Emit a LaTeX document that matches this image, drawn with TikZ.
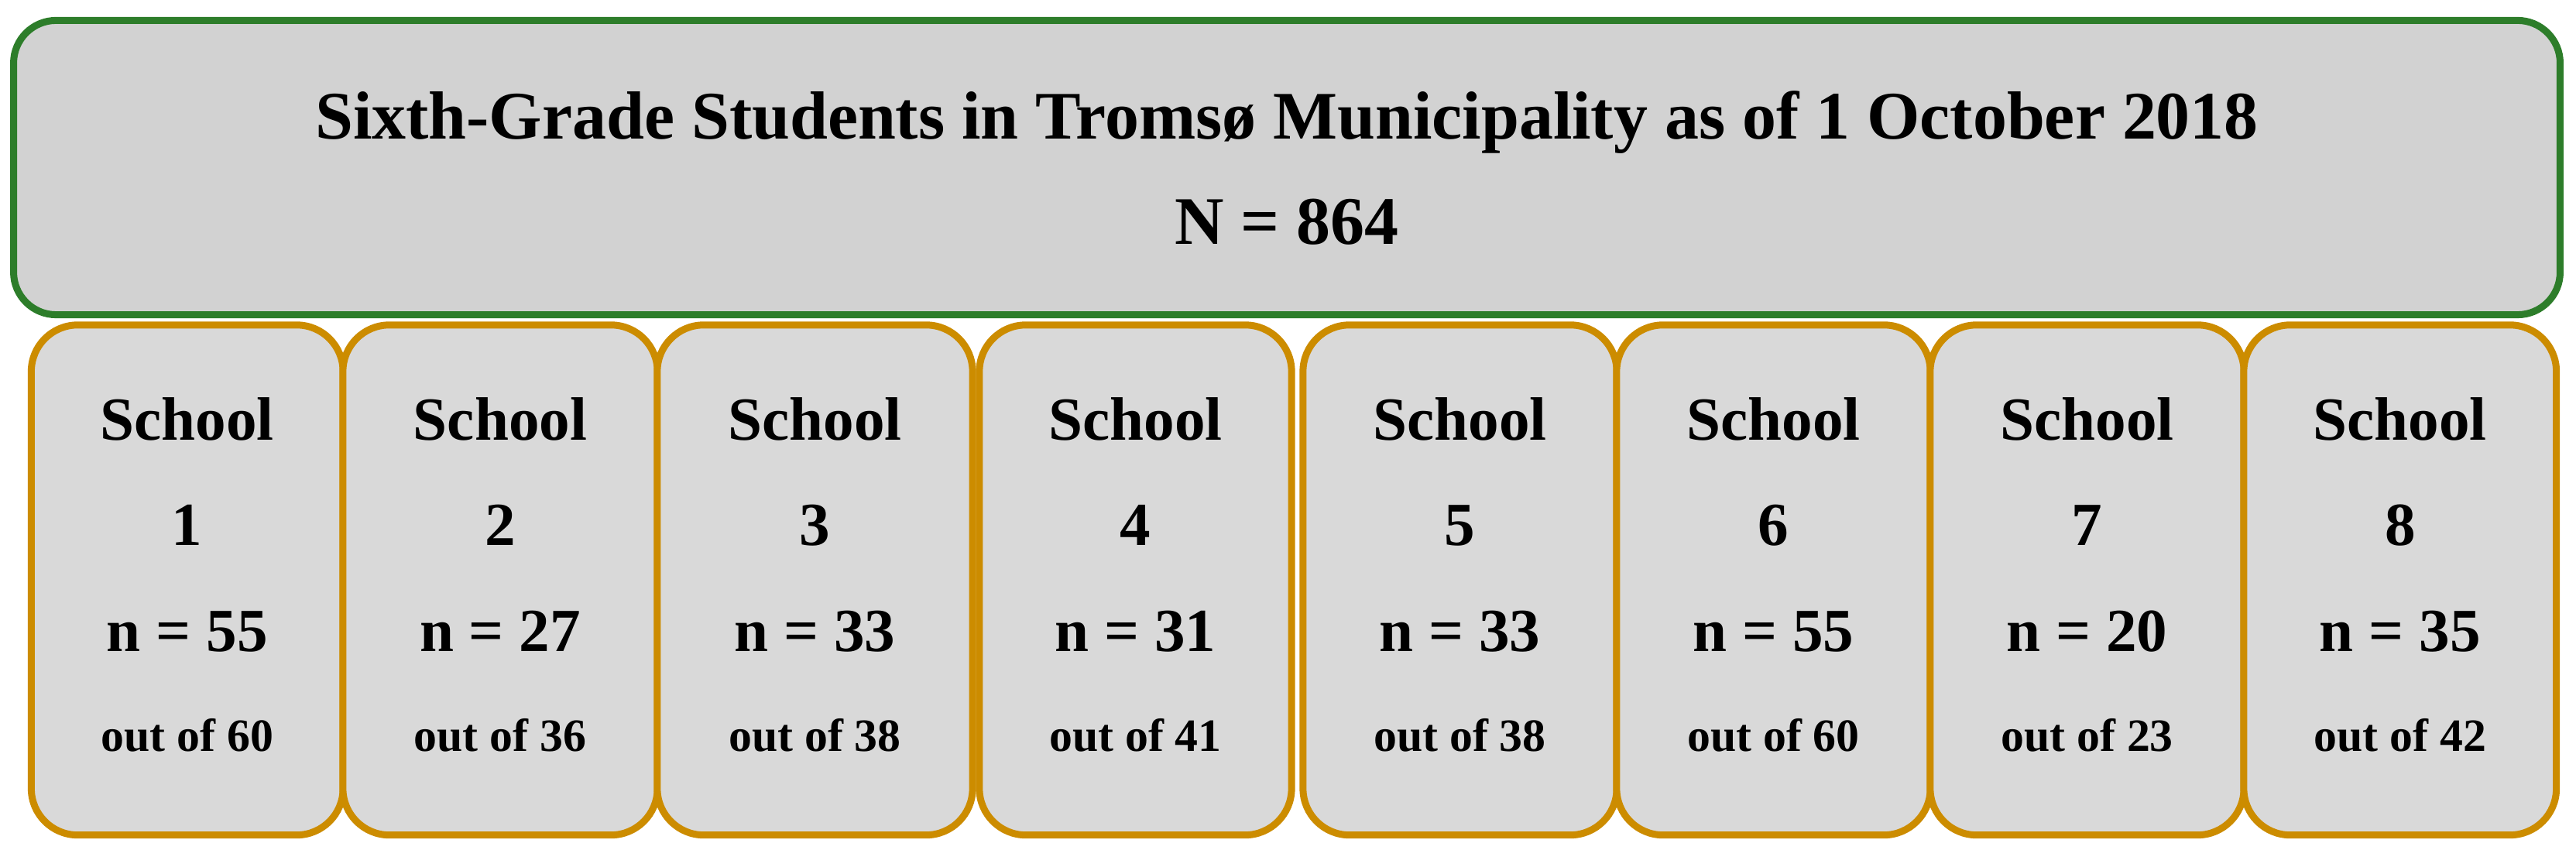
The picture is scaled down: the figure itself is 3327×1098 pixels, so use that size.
\documentclass[tikz,border=0pt]{standalone}
\usepackage{fontspec}
\setmainfont{Liberation Serif}
\definecolor{topgreen}{RGB}{45,125,42}
\definecolor{topfill}{RGB}{210,210,210}
\definecolor{schoolfill}{RGB}{217,217,217}
\definecolor{schoolline}{RGB}{204,140,0}
\tikzset{
  topbox/.style={draw=topgreen, fill=topfill, line width=0.09cm, rounded corners=0.55cm,
    minimum width=32.87cm, minimum height=3.80cm, inner sep=0pt},
  schoolbox/.style={draw=schoolline, fill=schoolfill, line width=0.09cm, rounded corners=0.6cm,
    minimum height=6.585cm, inner sep=0pt},
  titletext/.style={anchor=base, inner sep=0pt, font=\fontsize{25}{30}\selectfont\bfseries},
  bigtext/.style={anchor=base, inner sep=0pt, font=\fontsize{22.5}{27}\selectfont\bfseries},
  smalltext/.style={anchor=base, inner sep=0pt, font=\fontsize{17}{20}\selectfont\bfseries}
}
\begin{document}
\begin{tikzpicture}[x=0.01cm, y=-0.01cm]
\useasboundingbox (0,0) rectangle (3327,1098);
\node[topbox] (top) at (1662,216.5) {};
\node[titletext] (title) at (1662,180) {Sixth-Grade Students in Tromsø Municipality as of 1 October 2018};
\node[titletext] (total) at (1662,316) {N = 864};
\foreach \i/\c/\w/\n/\m in {1/241.75/4.025/55/60, 2/646/4.06/27/36, 3/1052.5/4.07/33/38,
  4/1466.5/4.03/31/41, 5/1885.5/4.05/33/38, 6/2290.5/4.05/55/60, 7/2695.5/4.05/20/23,
  8/3099.75/4.035/35/42}{
  \node[schoolbox, minimum width=\w cm] (s\i) at (\c,749.25) {};
  \node[bigtext] (s\i a) at (\c,569) {School};
  \node[bigtext] (s\i b) at (\c,705) {\i};
  \node[bigtext] (s\i c) at (\c,842) {n = \n};
  \node[smalltext] (s\i d) at (\c,971) {out of \m};
}
\end{tikzpicture}
\end{document}
